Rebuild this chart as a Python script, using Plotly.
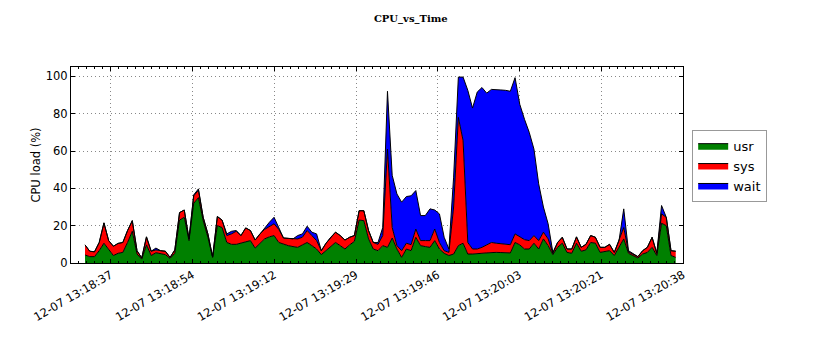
import pandas as pd
import plotly.graph_objects as go

# sampling start (1 s interval)
start_time = "2013-12-07 13:18:32"

usr = [4.3, 3.4, 3.4, 6.6, 10.6, 7.5, 4.0, 5.2, 5.7, 11.0,
       17.0, 4.8, 2.1, 9.7, 4.0, 5.5, 4.8, 4.5, 2.5, 5.2,
       23.0, 24.5, 12.0, 32.0, 35.0, 22.7, 13.8, 3.0, 20.0, 19.0,
       11.0, 10.0, 10.0, 10.6, 11.0, 12.0, 8.0, 10.6, 12.9, 14.0,
       14.7, 11.0, 10.0, 9.3, 8.8, 8.4, 9.7, 11.0, 9.3, 7.5,
       4.5, 6.6, 8.4, 11.0, 9.3, 7.5, 9.7, 11.6, 23.0, 22.7,
       12.9, 7.5, 6.6, 9.3, 8.4, 13.4, 7.5, 3.0, 7.5, 6.6,
       13.8, 9.3, 8.8, 8.4, 12.0, 7.5, 5.2, 4.0, 4.8, 9.3,
       10.6, 4.8, 4.8, 4.8, 5.2, 5.4, 5.7, 5.7, 5.6, 5.6,
       5.4, 11.0, 9.7, 7.5, 7.5, 10.6, 7.5, 12.9, 9.3, 4.5,
       8.4, 10.6, 5.7, 5.2, 10.6, 6.3, 7.0, 11.0, 10.6, 5.7,
       6.3, 6.6, 4.0, 8.4, 12.9, 5.2, 4.0, 2.7, 4.8, 5.7,
       8.4, 4.0, 21.3, 20.0, 4.0, 3.0]

sys_ = [5.4, 2.9, 2.6, 4.4, 10.9, 4.5, 5.0, 5.3, 5.3, 6.4,
        5.7, 1.8, 0.6, 4.3, 2.3, 1.5, 1.8, 1.8, 0.5, 1.8,
        4.0, 3.9, 0.9, 4.0, 4.0, 1.8, 1.8, 0.2, 4.9, 4.0,
        3.7, 5.6, 7.0, 4.1, 7.8, 5.4, 4.3, 5.0, 5.1, 5.5,
        6.3, 7.0, 3.4, 3.9, 4.1, 4.5, 4.1, 6.4, 5.4, 4.5,
        2.1, 4.0, 5.4, 5.5, 5.4, 4.8, 4.1, 3.1, 5.0, 5.3,
        4.5, 3.5, 3.4, 5.4, 52.6, 5.6, 1.8, 3.6, 3.1, 3.2,
        4.4, 2.7, 3.2, 3.6, 6.2, 3.5, 1.4, 1.7, 25.2, 68.7,
        55.0, 6.2, 2.7, 2.7, 3.2, 4.3, 5.3, 4.9, 4.6, 4.6,
        4.4, 4.6, 4.3, 5.0, 4.5, 4.1, 4.5, 3.6, 3.6, 0.7,
        2.6, 3.2, 1.8, 2.3, 3.4, 2.1, 3.0, 3.7, 3.2, 2.7,
        2.1, 3.4, 1.7, 3.6, 6.1, 0.8, 0.8, 0.7, 1.8, 2.7,
        5.4, 1.2, 5.0, 4.5, 2.6, 3.3]

wait = [0, 0, 0, 0, 0, 0, 0, 0, 0, 0,
        0, 0, 0, 0, 0, 1.0, 0, 0, 0, 0,
        0, 0, 0, 0.5, 0.7, 0, 0, 0, 0, 0,
        0.9, 1.4, 0.4, 0, 0, 0, 0, 0, 1.0, 2.3,
        3.5, 1.0, 0, 0, 0, 1.8, 1.8, 2.3, 1.8, 3.6,
        0, 0, 0, 0, 0, 0, 0, 0, 0, 0,
        0, 0, 1.0, 4.3, 31.0, 28.0, 27.7, 26.0, 25.0, 26.2,
        20.6, 13.4, 13.4, 17.0, 10.2, 15.3, 7.2, 1.8, 16.0, 21.6,
        34.0, 81.5, 75.5, 84.1, 85.6, 81.3, 82.0, 82.4, 82.5, 82.3,
        82.2, 83.7, 71.0, 64.5, 58.0, 46.3, 30.4, 13.5, 8.1, 0.5,
        0, 0, 0, 0, 0, 0, 0, 0, 0, 0,
        0, 0, 0, 0, 10.0, 0.6, 0, 0, 0, 0,
        0, 0, 4.5, 0, 0, 0]

series_names = ["usr", "sys", "wait"]

tick_times = ["2013-12-07 13:18:37.44", "2013-12-07 13:18:54.74",
              "2013-12-07 13:19:12.04", "2013-12-07 13:19:29.34",
              "2013-12-07 13:19:46.64", "2013-12-07 13:20:03.94",
              "2013-12-07 13:20:21.24", "2013-12-07 13:20:38.54"]
tick_labels = ["12-07 13:18:37", "12-07 13:18:54", "12-07 13:19:12",
               "12-07 13:19:29", "12-07 13:19:46", "12-07 13:20:03",
               "12-07 13:20:21", "12-07 13:20:38"]
x_range = ["2013-12-07 13:18:29.03", "2013-12-07 13:20:38.54"]

times = pd.date_range(start_time, periods=len(usr), freq="1s")

colors = ["#008000", "#ff0000", "#0000ff"]
fig = go.Figure()
for name, vals, col in zip(series_names, [usr, sys_, wait], colors):
    fig.add_trace(go.Scatter(
        x=times, y=vals, name=name, mode="lines", stackgroup="cpu",
        line=dict(color="black", width=1), fillcolor=col,
    ))

font_family = "DejaVu Sans"
grid_dash = "1px,3px"
fig.update_layout(
    width=835, height=350,
    margin=dict(l=71, r=152, t=67, b=87),
    paper_bgcolor="white", plot_bgcolor="white",
    font=dict(family=font_family, size=11, color="black"),
    title=dict(text="<b>CPU_vs_Time</b>", x=0.492, xref="container", xanchor="center",
               y=1 - 18 / 350, yref="container", yanchor="middle",
               font=dict(family="DejaVu Serif", size=10, color="black")),
    legend=dict(x=1.015, y=0.68, xanchor="left", yanchor="top",
                bordercolor="#999999", borderwidth=1, bgcolor="white",
                font=dict(family=font_family, size=13), tracegroupgap=0,
                traceorder="normal"),
    showlegend=True,
)
fig.update_xaxes(
    type="date", range=x_range, tickvals=tick_times, ticktext=tick_labels,
    tickangle=-30, tickfont=dict(size=11.5),
    ticks="inside", ticklen=4, tickcolor="black",
    showline=True, linecolor="black", linewidth=1, mirror="ticks",
    showgrid=True, gridcolor="#888888", gridwidth=1, griddash=grid_dash,
    minor=dict(ticks="inside", ticklen=2, tickcolor="black", dtick=1730,
               tick0=tick_times[0], showgrid=False),
    zeroline=False,
)
fig.update_yaxes(
    range=[0, 105], tickvals=[0, 20, 40, 60, 80, 100],
    tickfont=dict(size=11.5),
    ticks="inside", ticklen=4, tickcolor="black",
    showline=True, linecolor="black", linewidth=1, mirror="ticks",
    showgrid=True, gridcolor="#888888", gridwidth=1, griddash=grid_dash,
    title=dict(text="CPU load (%)", font=dict(size=11.5), standoff=2),
    zeroline=False,
)

fig.write_html("out.html")
